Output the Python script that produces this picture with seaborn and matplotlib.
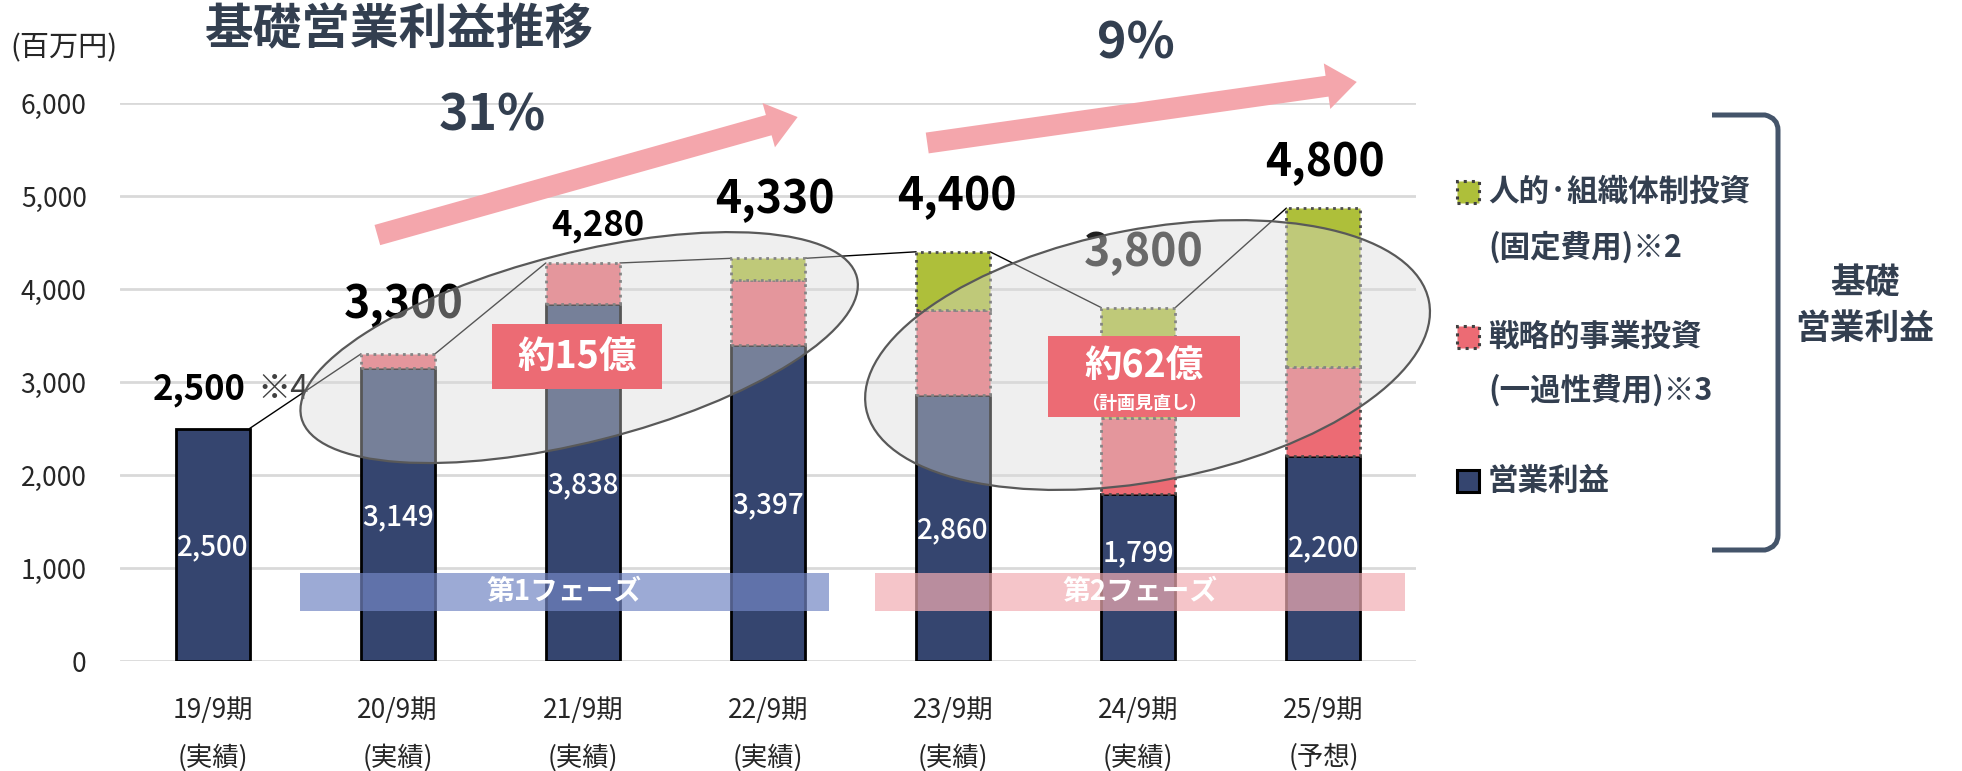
import numpy as np
import pandas as pd
import seaborn as sns
import matplotlib.pyplot as plt
from matplotlib.patches import Ellipse, Rectangle, FancyArrow, PathPatch
from matplotlib.path import Path
from matplotlib.transforms import IdentityTransform


PERIODS = ["19/9期", "20/9期", "21/9期", "22/9期", "23/9期", "24/9期", "25/9期"]
RESULT_TYPES = ["実績", "実績", "実績", "実績", "実績", "実績", "予想"]
OPERATING_PROFIT = [2500, 3149, 3838, 3397, 2860, 1799, 2200]
STRATEGIC_INVEST = [0, 151, 442, 700, 910, 811, 960]
HUMAN_INVEST = [0, 0, 0, 233, 630, 1190, 1710]
TOTAL_LABELS = [2500, 3300, 4280, 4330, 4400, 3800, 4800]
GROWTH_TEXTS = ["31%", "9%"]
PHASE_NAMES = ["第1フェーズ", "第2フェーズ"]
INVEST_NOTES = ["約15億", "約62億"]
LEGEND_LABELS = ["人的·組織体制投資", "(固定費用)※2", "戦略的事業投資", "(一過性費用)※3", "営業利益"]

NAVY = "#35456F"
RED = "#EC6B74"
GREEN = "#AEBF3A"
DARK = "#333F50"
PINK_ARROW = "#F4A6AC"

W, H = 1962, 771


def fx(x):
    return x / W


def fy(y):
    return 1 - y / H


def main() -> None:
    sns.set_theme(style="white")
    plt.rcParams["font.family"] = ["Noto Sans CJK JP", "DejaVu Sans"]

    df = pd.DataFrame(
        {
            "period": [f"{p}\n({t})" for p, t in zip(PERIODS, RESULT_TYPES)],
            "operating": OPERATING_PROFIT,
            "strategic": STRATEGIC_INVEST,
            "human": HUMAN_INVEST,
        }
    )
    df["base2"] = df["operating"] + df["strategic"]
    df["total"] = df["base2"] + df["human"]

    fig = plt.figure(figsize=(W / 100, H / 100), dpi=100)
    ax = fig.add_axes([fx(120), fy(661), (1416 - 120) / W, (661 - 103) / H])

    sns.barplot(data=df, x="period", y="operating", color=NAVY, width=0.4, saturation=1,
                edgecolor="black", linewidth=2, errorbar=None, ax=ax, zorder=2)
    sns.barplot(data=df, x="period", y="strategic", color=RED, width=0.4, saturation=1,
                bottom=df["operating"].to_numpy(), edgecolor="#4d4d4d", linewidth=2,
                linestyle=":", errorbar=None, ax=ax, zorder=2)
    sns.barplot(data=df, x="period", y="human", color=GREEN, width=0.4, saturation=1,
                bottom=df["base2"].to_numpy(), edgecolor="#4d4d4d", linewidth=2,
                linestyle=":", errorbar=None, ax=ax, zorder=2)
    for p in list(ax.patches):
        if p.get_height() == 0:
            p.remove()

    ax.set_xlim(-0.5, 6.5)
    ax.set_ylim(0, 6000)
    ax.set_yticks(range(0, 6001, 1000))
    ax.set_yticklabels([f"{v:,}" for v in range(0, 6001, 1000)], fontsize=19, color="#262626")
    ax.set_xticks(range(len(PERIODS)))
    ax.set_xticklabels(df["period"], fontsize=19, linespacing=1.9, color="#262626")
    ax.tick_params(axis="y", length=0, pad=24)
    ax.tick_params(axis="x", length=0, pad=26)
    ax.set_xlabel("")
    ax.set_ylabel("")
    ax.yaxis.grid(True, color="#D9D9D9", linewidth=2)
    ax.xaxis.grid(False)
    ax.set_axisbelow(True)
    for s in ax.spines.values():
        s.set_visible(False)

    # series lines between bar tops
    tops = df["total"].to_numpy()
    for i in range(len(tops) - 1):
        ax.plot([i + 0.2, i + 0.8], [tops[i], tops[i + 1]], color="black", lw=1, zorder=1.8)

    # values inside the navy bars
    inner_y = [1226, 1548, 1892, 1677, 1408, 1161, 1215]
    for i, v in enumerate(OPERATING_PROFIT):
        ax.text(i, inner_y[i], f"{v:,}", color="white", ha="center", va="center",
                fontsize=20, fontweight="medium", zorder=3)

    # total labels
    ax.text(0.18, 2914, f"{TOTAL_LABELS[0]:,}", ha="right", va="center", fontsize=25,
            fontweight="bold", color="black", zorder=3)
    ax.text(0.24, 2914, "※4", ha="left", va="center", fontsize=24, color="#404040", zorder=3)
    big = {1: (1.03, 3828), 3: (3.04, 4957), 4: (4.02, 4989), 5: (5.03, 4387), 6: (6.01, 5355)}
    for i, (x, y) in big.items():
        ax.text(x, y, f"{TOTAL_LABELS[i]:,}", ha="center", va="center", fontsize=32,
                fontweight="bold", color="black" if i != 5 else "#202020", zorder=3)
    ax.text(2.08, 4688, f"{TOTAL_LABELS[2]:,}", ha="center", va="center", fontsize=25,
            fontweight="bold", color="black", zorder=3)

    # investment ellipses (semi-transparent overlay)
    for (cx, cy), (ew, eh), ang in [((1.98, 3370), (573, 189), 14.2), ((5.05, 3290), (573, 252), 10.8)]:
        px, py = ax.transData.transform((cx, cy))
        ax.add_patch(Ellipse((px, py), ew, eh, angle=ang, transform=IdentityTransform(),
                             facecolor="#D9D9D9", alpha=0.4, edgecolor="none", zorder=4, clip_on=False))
        ax.add_patch(Ellipse((px, py), ew, eh, angle=ang, transform=IdentityTransform(),
                             facecolor="none", edgecolor="#595959", lw=1.6, zorder=4.1, clip_on=False))

    # phase bands
    for (x0, x1), name in zip([(0.47, 3.33), (3.58, 6.44)], PHASE_NAMES):
        band_color = "#7386C4" if name == PHASE_NAMES[0] else "#F2ADB3"
        ax.add_patch(Rectangle((x0, 538), x1 - x0, 408, facecolor=band_color, alpha=0.7,
                               edgecolor="none", zorder=3.5))
        ax.text((x0 + x1) / 2, 742, name, color="white", ha="center", va="center",
                fontsize=20, fontweight="bold", zorder=3.6)

    # investment note boxes
    ax.add_patch(Rectangle((1.51, 2925), 0.92, 699, facecolor=RED, edgecolor="none", zorder=5))
    ax.text(1.97, 3275, INVEST_NOTES[0], color="white", ha="center", va="center",
            fontsize=27, fontweight="bold", zorder=5.1)
    ax.add_patch(Rectangle((4.51, 2624), 1.04, 871, facecolor=RED, edgecolor="none", zorder=5))
    ax.text(5.03, 3180, INVEST_NOTES[1], color="white", ha="center", va="center",
            fontsize=27, fontweight="bold", zorder=5.1)
    ax.text(5.03, 2770, "（計画見直し）", color="white", ha="center", va="center",
            fontsize=13, fontweight="bold", zorder=5.1)

    # growth arrows
    for (t0, t1) in [((0.89, 4580), (3.16, 5849)), ((3.86, 5570), (6.18, 6226))]:
        x0, y0 = ax.transData.transform(t0)
        x1, y1 = ax.transData.transform(t1)
        ax.add_patch(FancyArrow(x0, y0, x1 - x0, y1 - y0, width=21, head_width=46,
                                head_length=30, length_includes_head=True,
                                transform=IdentityTransform(), color=PINK_ARROW,
                                lw=0, zorder=2.5, clip_on=False))

    fig.text(fx(492), fy(116), GROWTH_TEXTS[0], ha="center", va="center", fontsize=36,
             fontweight="bold", color=DARK)
    fig.text(fx(1136), fy(44), GROWTH_TEXTS[1], ha="center", va="center", fontsize=36,
             fontweight="bold", color=DARK)

    # title and unit
    fig.text(fx(205), fy(30), "基礎営業利益推移", ha="left", va="center", fontsize=35,
             fontweight="bold", color=DARK)
    fig.text(fx(10), fy(48), "(百万円)", ha="left", va="center", fontsize=21, color="#262626")

    # legend
    sq = 22
    for y, fc, ls, ec in [(192, GREEN, ":", "#404040"), (337, RED, ":", "#404040"),
                          (481, NAVY, "-", "black")]:
        fig.patches.append(Rectangle((fx(1457), fy(y + sq / 2)), sq / W, sq / H, facecolor=fc,
                                     edgecolor=ec, linestyle=ls, lw=2.2,
                                     transform=fig.transFigure, figure=fig))
    for y, label in zip([192, 247, 337, 390, 481], LEGEND_LABELS):
        fig.text(fx(1488), fy(y), label, ha="left", va="center", fontsize=22,
                 fontweight="bold", color=DARK)

    # bracket
    verts = [(1712, 115), (1765, 115), (1778, 118), (1778, 130), (1778, 535),
             (1778, 547), (1765, 550), (1712, 550)]
    codes = [Path.MOVETO, Path.LINETO, Path.CURVE3, Path.CURVE3, Path.LINETO,
             Path.CURVE3, Path.CURVE3, Path.LINETO]
    path = Path([(fx(x), fy(y)) for x, y in verts], codes)
    fig.patches.append(PathPatch(path, facecolor="none", edgecolor="#44546A", lw=3.6,
                                 transform=fig.transFigure, figure=fig))
    fig.text(fx(1865), fy(283), "基礎", ha="center", va="center", fontsize=25,
             fontweight="bold", color=DARK)
    fig.text(fx(1865), fy(328), "営業利益", ha="center", va="center", fontsize=25,
             fontweight="bold", color=DARK)

    fig.savefig("out.png", dpi=100, facecolor="white")
    plt.close(fig)


if __name__ == "__main__":
    main()
